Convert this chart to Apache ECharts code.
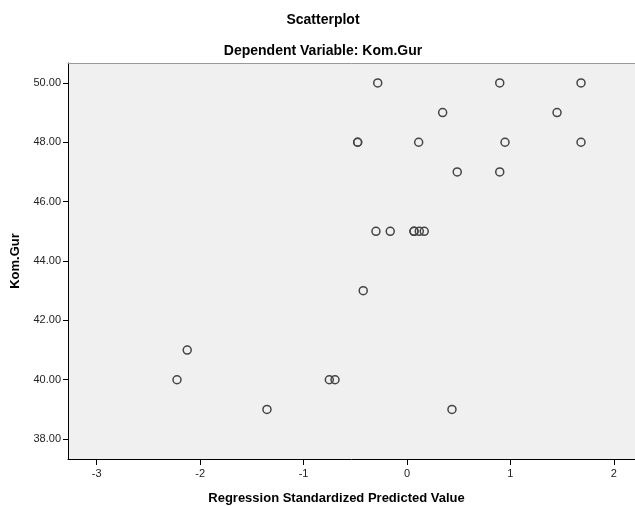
<!DOCTYPE html>
<html><head><meta charset="utf-8">
<script src="https://cdn.jsdelivr.net/npm/echarts@6/dist/echarts.min.js"></script>
<style>html,body{margin:0;padding:0;background:#fff}#c{width:635px;height:506px}</style>
</head><body><div id="c"></div>
<script>
var predicted = [-0.283, 0.897, 1.683, 0.345, 1.451, -0.477, -0.477, 0.113, 0.948, 1.683, 0.486, 0.897,
  -0.300, -0.162, 0.068, 0.068, 0.119, 0.167, -0.423, -2.125, -2.224, -0.751, -0.696, -1.354, 0.435];
var komGur = [50, 50, 50, 49, 49, 48, 48, 48, 48, 48, 47, 47,
  45, 45, 45, 45, 45, 45, 43, 41, 40, 40, 40, 39, 39];
var xTicks = [-3, -2, -1, 0, 1, 2];
var yTicks = [38, 40, 42, 44, 46, 48, 50];

var pts = predicted.map(function(v, i){ return [v, komGur[i]]; });
var font = 'Liberation Sans, Arial, sans-serif';
var chart = echarts.init(document.getElementById('c'));
chart.setOption({
  animation: false,
  title: [
    {text: 'Scatterplot', left: 318, top: 8, textAlign: 'center',
     textStyle: {fontFamily: font, fontSize: 14, fontWeight: 'bold', color: '#000'}},
    {text: 'Dependent Variable: Kom.Gur', left: 318, top: 39, textAlign: 'center',
     textStyle: {fontFamily: font, fontSize: 14, fontWeight: 'bold', color: '#000'}}
  ],
  grid: {left: 68, top: 63, right: 0, bottom: 47, show: true, backgroundColor: '#f0f0f0', borderWidth: 0,
    outerBoundsMode: 'none', containLabel: false},
  xAxis: [{
    type: 'value', min: -3.278, max: 2.205,
    name: 'Regression Standardized Predicted Value', nameLocation: 'middle', nameGap: 33,
    nameTextStyle: {fontFamily: font, fontSize: 13, fontWeight: 'bold', color: '#000', padding: [0, 30, 0, 0]},
    axisLine: {show: true, onZero: false, lineStyle: {color: '#000', width: 1}},
    axisTick: {show: true, length: 6, customValues: xTicks, lineStyle: {color: '#000'}},
    axisLabel: {customValues: xTicks, fontFamily: font, fontSize: 11, color: '#222', margin: 9},
    splitLine: {show: false}
  }, {
    type: 'value', position: 'top', min: -3.278, max: 2.205,
    axisLine: {show: true, lineStyle: {color: '#999', width: 1}},
    axisTick: {show: false}, axisLabel: {show: false}, splitLine: {show: false}
  }],
  yAxis: {
    type: 'value', min: 37.33, max: 50.67,
    name: 'Kom.Gur', nameLocation: 'middle', nameGap: 46, nameRotate: 90,
    nameTextStyle: {fontFamily: font, fontSize: 13, fontWeight: 'bold', color: '#000'},
    axisLine: {show: true, onZero: false, lineStyle: {color: '#000', width: 1}},
    axisTick: {show: true, length: 5, customValues: yTicks, lineStyle: {color: '#000'}},
    axisLabel: {customValues: yTicks, fontFamily: font, fontSize: 11, color: '#222', margin: 7,
      formatter: function(v){ return v.toFixed(2); }},
    splitLine: {show: false}
  },
  series: [{
    type: 'scatter', data: pts, symbol: 'circle', symbolSize: 8,
    itemStyle: {color: 'rgba(0,0,0,0)', borderColor: '#444', borderWidth: 1.5, opacity: 1}
  }]
});
</script></body></html>
